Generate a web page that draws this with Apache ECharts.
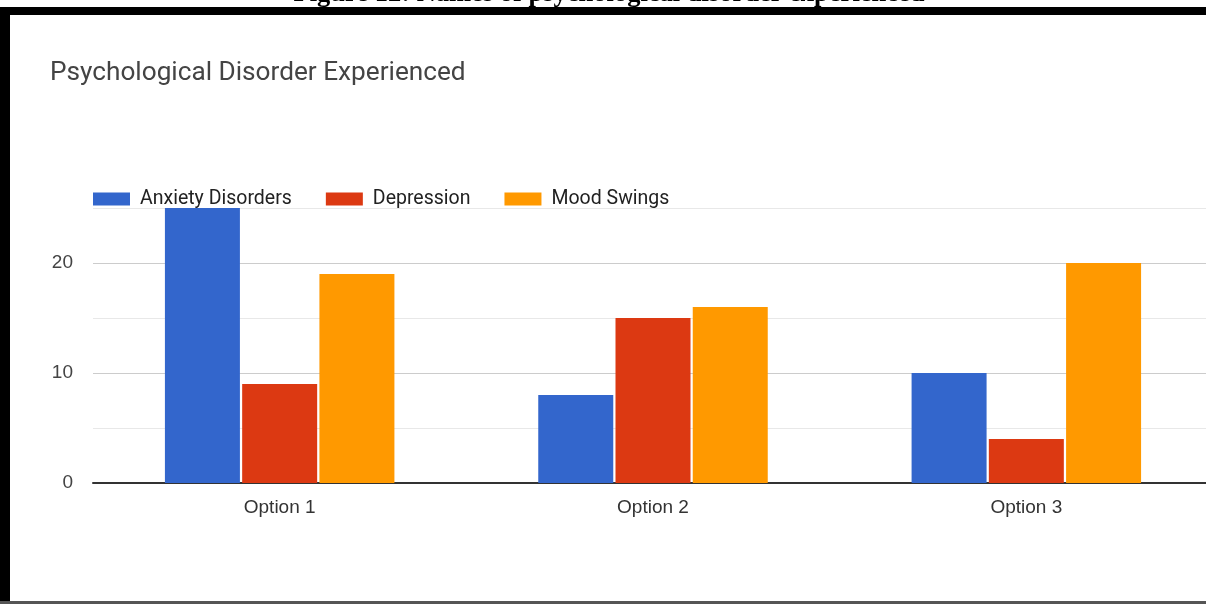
<!DOCTYPE html>
<html>
<head>
<meta charset="utf-8">
<script src="https://cdn.jsdelivr.net/npm/echarts@6/dist/echarts.min.js"></script>
<style>
html,body{margin:0;padding:0;background:#fff;overflow:hidden;width:1206px;height:604px;}
#chart{width:1220px;height:604px;}
</style>
</head>
<body>
<div id="chart"></div>
<script>
const categories = ['Option 1', 'Option 2', 'Option 3'];
const seriesNames = ['Anxiety Disorders', 'Depression', 'Mood Swings'];
const anxiety = [25, 8, 10];
const depression = [9, 15, 4];
const moodSwings = [19, 16, 20];
const colors = ['#3366cc', '#dc3912', '#ff9900'];
const titleText = 'Psychological Disorder Experienced';
const captionText = 'Figure 12: Names of psychological disorder experienced';

const chart = echarts.init(document.getElementById('chart'));
const seriesData = [anxiety, depression, moodSwings];
chart.setOption({
  animation: false,
  color: colors,
  title: {
    text: titleText,
    left: 45,
    top: 55,
    textStyle: { fontFamily: 'Roboto', fontSize: 26.2, fontWeight: 'normal', color: '#444' }
  },
  legend: {
    left: 88,
    top: 184,
    itemWidth: 37,
    itemHeight: 13,
    itemGap: 34,
    icon: 'rect',
    textStyle: { fontFamily: 'Roboto', fontSize: 19.5, color: '#222', padding: [0, 0, 0, 5] },
    data: seriesNames
  },
  grid: { left: 93, right: 7, top: 208, bottom: 121, containLabel: false },
  xAxis: {
    type: 'category',
    data: categories,
    axisTick: { show: false },
    axisLine: { lineStyle: { color: '#333', width: 2 } },
    axisLabel: { margin: 15, fontFamily: 'Liberation Sans', fontSize: 19, color: '#333' }
  },
  yAxis: {
    type: 'value',
    min: 0, max: 25, interval: 5,
    axisLine: { show: false },
    axisTick: { show: false },
    splitLine: { lineStyle: { color: ['#cccccc', '#e8e8e8'], width: 1 } },
    axisLabel: {
      margin: 20,
      fontFamily: 'Liberation Sans', fontSize: 19, color: '#444',
      formatter: v => (v % 10 === 0 && v <= 20) ? String(v) : ''
    }
  },
  series: seriesNames.map((n, i) => ({
    name: n,
    type: 'bar',
    data: seriesData[i],
    barWidth: 75,
    barGap: '3%',
    itemStyle: { color: colors[i] }
  })),
  graphic: [
    { type: 'text', x: 609, y: -19,
      style: { text: captionText, font: 'bold 26.5px "Liberation Serif"', fill: '#000', textAlign: 'center', textVerticalAlign: 'top' } },
    { type: 'rect', shape: { x: 0, y: 7, width: 1220, height: 8 }, style: { fill: '#000' }, z: 100 },
    { type: 'rect', shape: { x: 0, y: 7, width: 10, height: 597 }, style: { fill: '#000' }, z: 100 },
    { type: 'rect', shape: { x: 0, y: 601, width: 1220, height: 3 }, style: { fill: '#555' }, z: 100 }
  ]
});
</script>
</body>
</html>
